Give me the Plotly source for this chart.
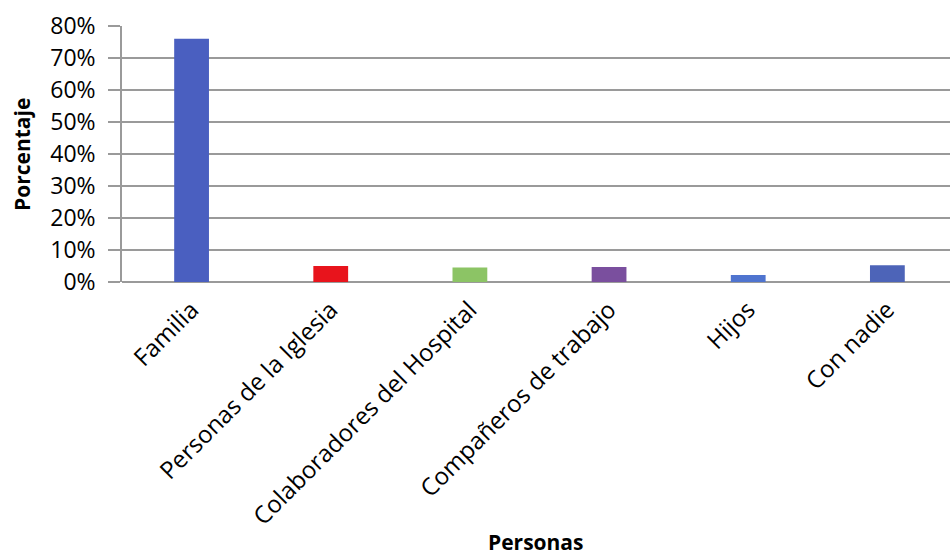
import plotly.graph_objects as go

# Personas con quienes se comparte, porcentaje de respuestas
categorias = [
    "Familia",
    "Personas de la Iglesia",
    "Colaboradores del Hospital",
    "Compañeros de trabajo",
    "Hijos",
    "Con nadie",
]
porcentajes = [76.0, 5.0, 4.5, 4.7, 2.2, 5.2]
colores = ["#4A5FC0", "#E8141C", "#8CC465", "#7A4F9E", "#4F74CF", "#4D64B8"]
ticks_y = [0, 10, 20, 30, 40, 50, 60, 70, 80]

FUENTE = "Open Sans"

fig = go.Figure(
    go.Bar(
        x=list(range(len(categorias))),
        y=porcentajes,
        marker=dict(color=colores, line=dict(width=0)),
        width=0.25,
        hoverinfo="skip",
    )
)

fig.update_layout(
    width=950,
    height=556,
    margin=dict(l=122, r=0, t=26, b=274),
    paper_bgcolor="white",
    plot_bgcolor="white",
    showlegend=False,
    font=dict(family=FUENTE, color="black"),
    annotations=[
        dict(
            text="<b>Personas</b>",
            xref="paper", yref="paper",
            x=0.5, y=-1.015,
            xanchor="center", yanchor="middle",
            showarrow=False,
            font=dict(family=FUENTE, size=21, color="black"),
        ),
        dict(
            text="<b>Porcentaje</b>",
            xref="paper", yref="paper",
            x=-0.1208, y=0.5,
            xanchor="center", yanchor="middle",
            textangle=-90,
            showarrow=False,
            font=dict(family=FUENTE, size=21, color="black"),
        ),
    ],
)

fig.update_xaxes(
    range=[-0.5, 5.45],
    tickmode="array",
    tickvals=list(range(len(categorias))),
    ticktext=categorias,
    tickangle=-45,
    tickfont=dict(family=FUENTE, size=24, color="black"),
    ticklabelstandoff=8,
    showgrid=False,
    showline=False,
    zeroline=False,
    ticks="",
)

fig.update_yaxes(
    range=[0, 80],
    tickmode="array",
    tickvals=ticks_y,
    ticktext=[f"{v}%" for v in ticks_y],
    tickfont=dict(family=FUENTE, size=23, color="black"),
    ticklabelstandoff=8,
    showgrid=True,
    gridcolor="#9A9A9A",
    gridwidth=1.5,
    showline=True,
    linecolor="#9A9A9A",
    linewidth=1.5,
    ticks="outside",
    ticklen=12,
    tickcolor="#9A9A9A",
    tickwidth=1.5,
    zeroline=True,
    zerolinecolor="#9A9A9A",
    zerolinewidth=1.5,
)

fig.write_html("out.html")
